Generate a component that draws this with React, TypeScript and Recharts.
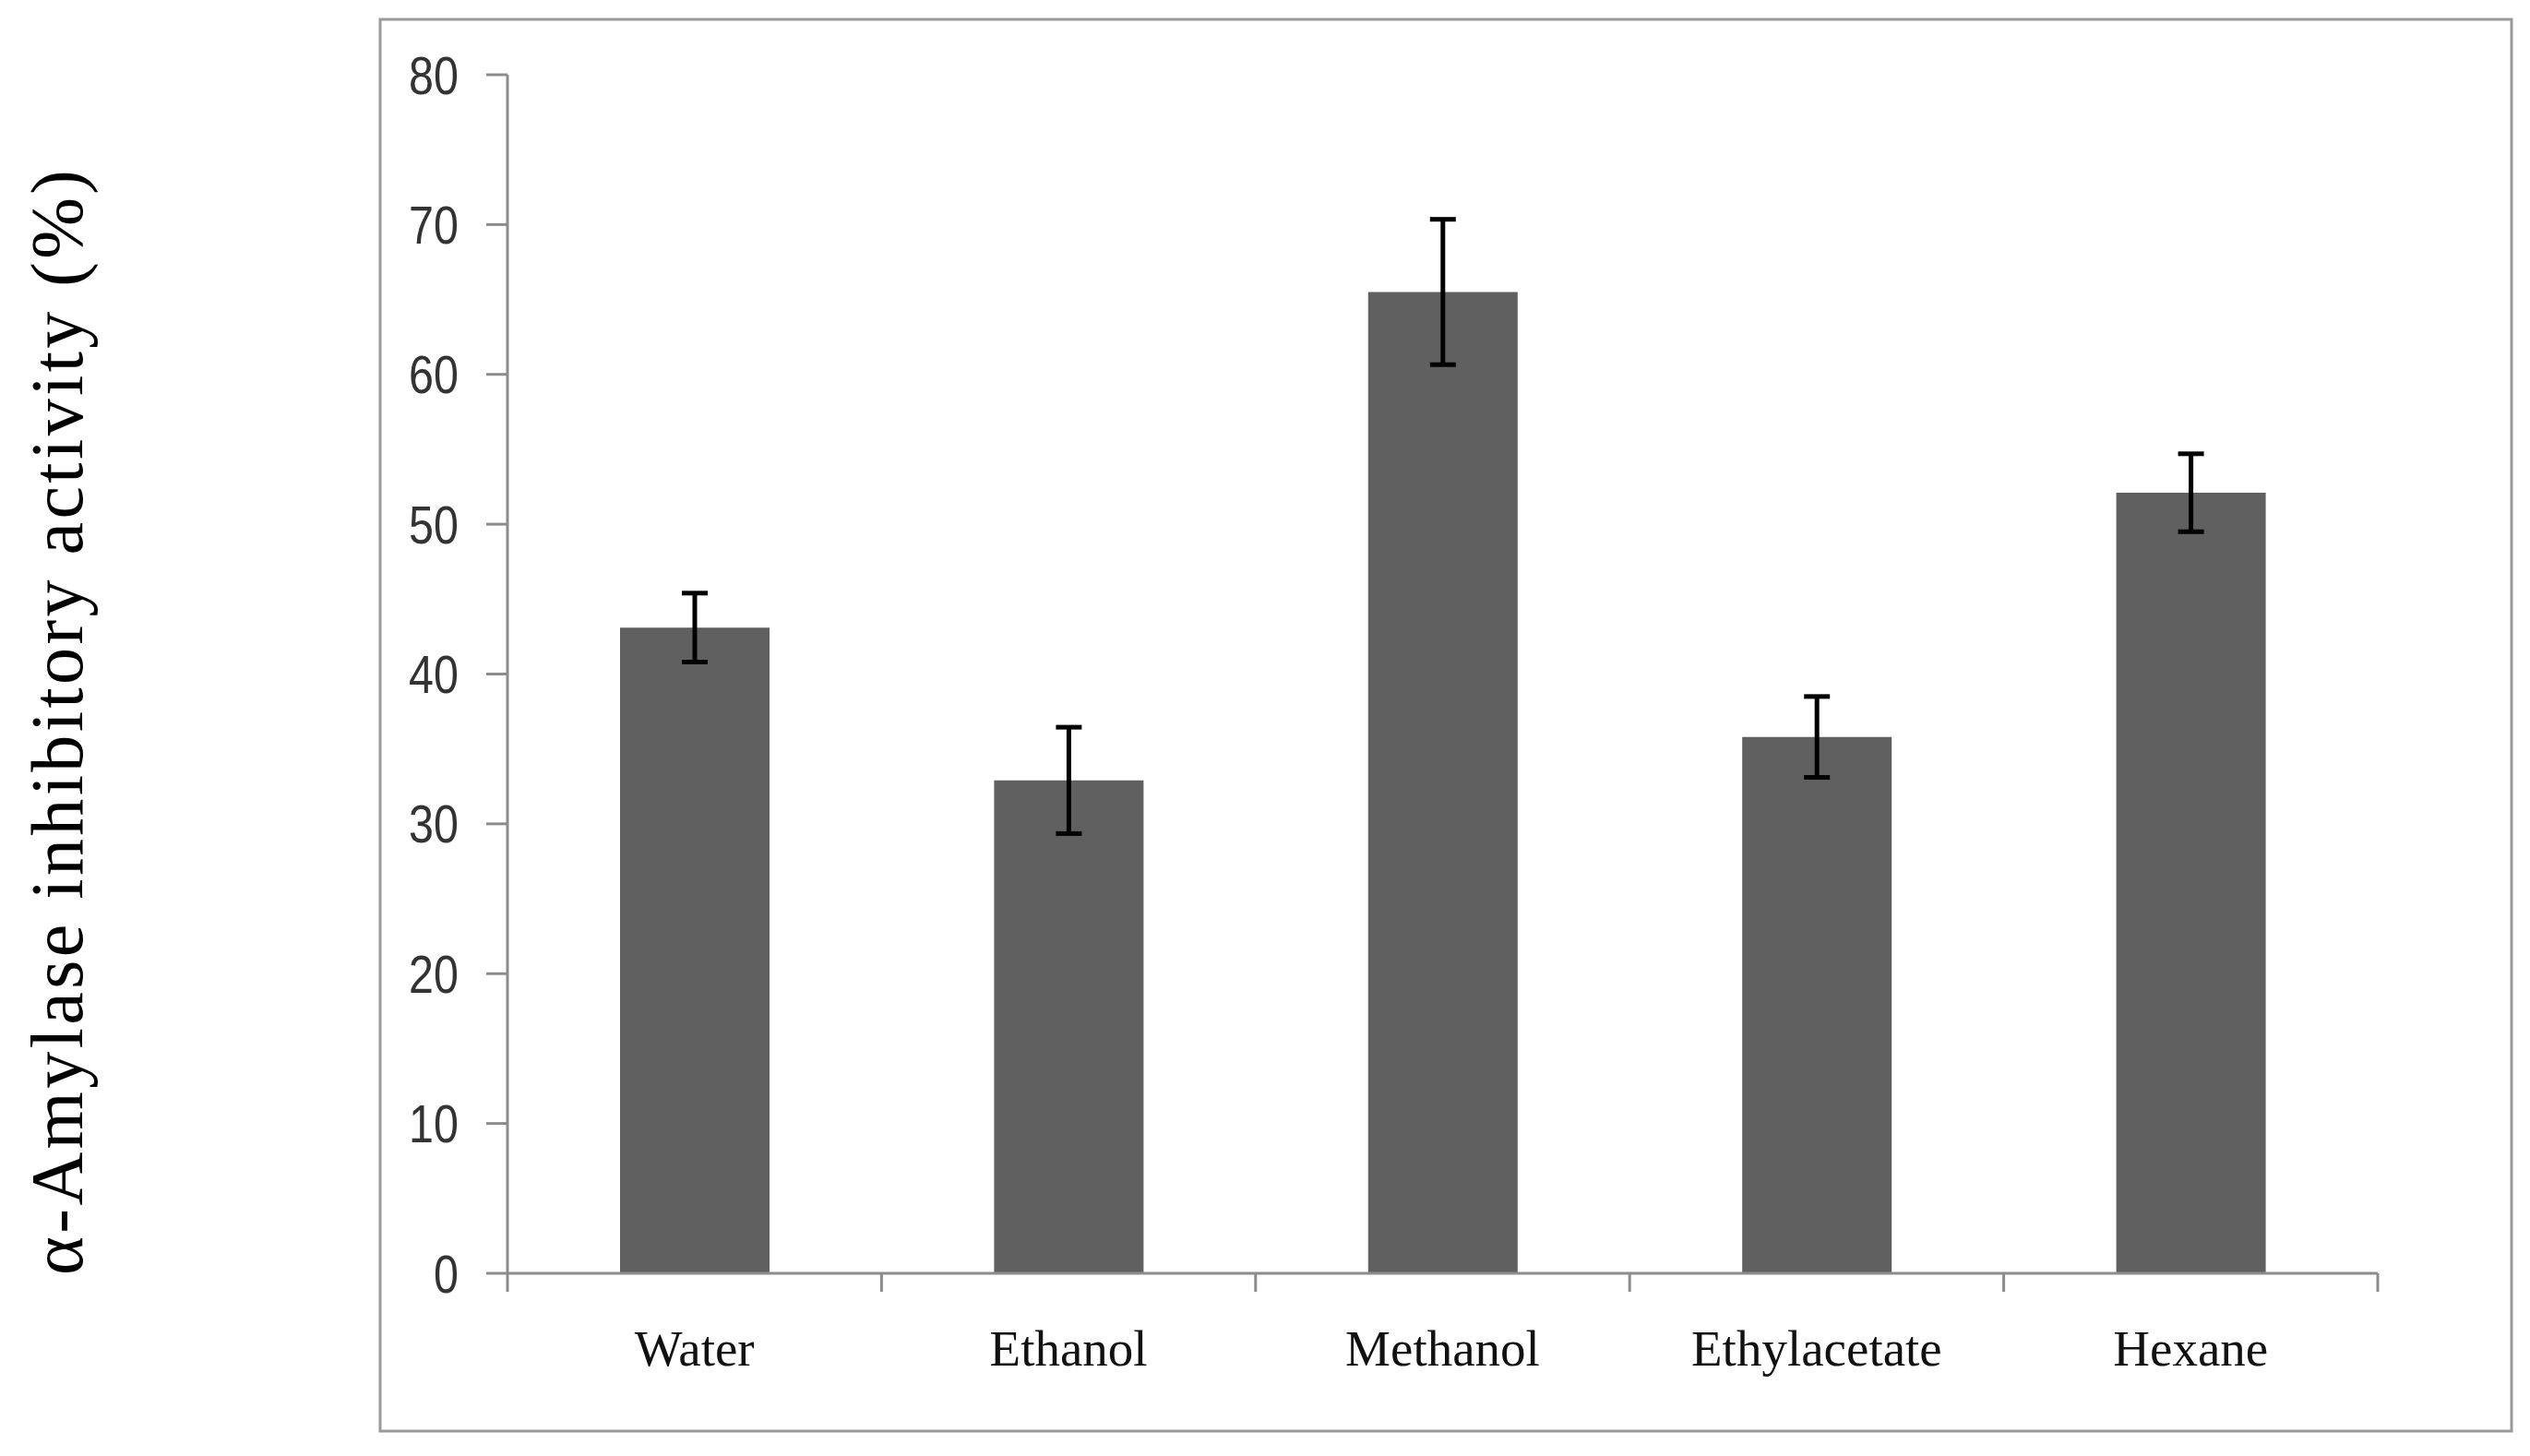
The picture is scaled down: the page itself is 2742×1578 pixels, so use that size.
import React from 'react';
import { BarChart, Bar, XAxis, YAxis, ErrorBar } from 'recharts';

const categories = ['Water', 'Ethanol', 'Methanol', 'Ethylacetate', 'Hexane'];
const values = [43.1, 32.9, 65.5, 35.8, 52.1];
const errors = [2.3, 3.55, 4.85, 2.7, 2.6];
const yTicks = [0, 10, 20, 30, 40, 50, 60, 70, 80];
const yTitle = 'α-Amylase inhibitory activity (%)';

const data = categories.map((c, i) => ({ name: c, value: values[i], err: errors[i] }));

const W = 2742;
const H = 1578;
const axisColor = '#8c8c8c';

const YTick = (props: any) => {
  const { x, y, payload } = props;
  return (
    <g transform={`translate(${x},${y}) scale(0.85,1)`}>
      <text
        x={0}
        y={0}
        dy="0.36em"
        textAnchor="end"
        fontFamily='"Liberation Sans", Arial, sans-serif'
        fontSize={57}
        fill="#333"
      >
        {payload.value}
      </text>
    </g>
  );
};

const XTick = (props: any) => {
  const { x, y, payload, index, visibleTicksCount } = props;
  const half = payload && typeof payload.offset === 'number' ? payload.offset : 0;
  const isLast = index === (visibleTicksCount ?? categories.length) - 1;
  return (
    <g>
      <line x1={x - half} x2={x - half} y1={y} y2={y + 20} stroke={axisColor} strokeWidth={3} />
      {isLast && (
        <line x1={x + half} x2={x + half} y1={y} y2={y + 20} stroke={axisColor} strokeWidth={3} />
      )}
      <text
        x={x}
        y={y + 100}
        textAnchor="middle"
        fontFamily='"Liberation Serif", "Times New Roman", serif'
        fontSize={55}
        fill="#111"
      >
        {payload.value}
      </text>
    </g>
  );
};

export default function App() {
  return (
    <div style={{ position: 'absolute', left: 0, top: 0, width: W, height: H, background: '#fff' }}>
      <BarChart
        width={W}
        height={H}
        data={data}
        margin={{ top: 81, right: 165, left: 0, bottom: 0 }}
      >
        <YAxis
          type="number"
          domain={[0, 80]}
          ticks={yTicks}
          interval={0}
          width={550}
          tickSize={23}
          tickMargin={30}
          axisLine={{ stroke: axisColor, strokeWidth: 3 }}
          tickLine={{ stroke: axisColor, strokeWidth: 3 }}
          tick={<YTick />}
        />
        <XAxis
          dataKey="name"
          type="category"
          height={198}
          axisLine={{ stroke: axisColor, strokeWidth: 3 }}
          tickLine={false}
          tickSize={0}
          tickMargin={0}
          interval={0}
          tick={<XTick />}
        />
        <Bar dataKey="value" fill="#606060" barSize={162} isAnimationActive={false}>
          <ErrorBar dataKey="err" width={14} strokeWidth={5} stroke="#000" />
        </Bar>
      </BarChart>
      <svg
        width={W}
        height={H}
        style={{ position: 'absolute', left: 0, top: 0, pointerEvents: 'none' }}
      >
        <rect x={412} y={21} width={2310} height={1530} fill="none" stroke="#999" strokeWidth={3} />
        <text
          x={89}
          y={783}
          transform="rotate(-90, 89, 783)"
          textAnchor="middle"
          fontFamily='"Liberation Serif", "Times New Roman", serif'
          fontSize={80}
          fill="#000"
          textLength={1198}
          lengthAdjust="spacing"
        >
          {yTitle}
        </text>
      </svg>
    </div>
  );
}
